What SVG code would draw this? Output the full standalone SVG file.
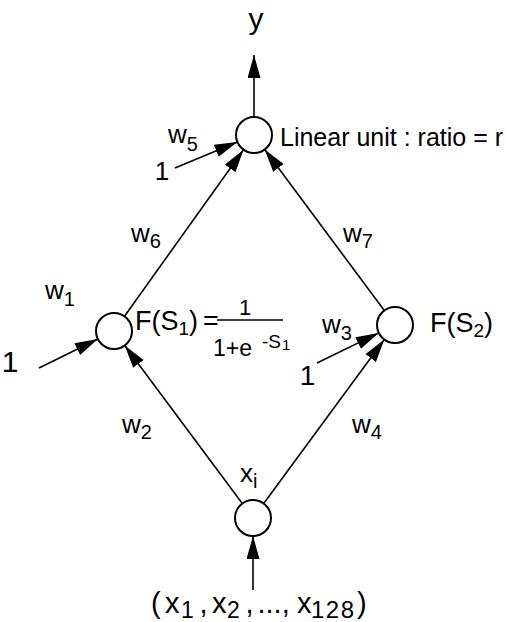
<svg xmlns="http://www.w3.org/2000/svg" width="506" height="622" viewBox="0 0 506 622">
<defs>
<marker id="arr" markerUnits="userSpaceOnUse" markerWidth="24" markerHeight="14" refX="23" refY="6.5" orient="auto">
<path d="M0,0 L23,6.5 L0,13 Z" fill="#000"/>
</marker>
<style>
text{font-family:"Liberation Sans",Arial,Helvetica,sans-serif;fill:#000}
.n{fill:#fff;stroke:#000;stroke-width:2}
.c{stroke:#000;stroke-width:1.6;fill:none}
.a{marker-end:url(#arr)}
.m{font-size:26px}
.s{font-size:20px}
</style>
</defs>
<rect width="506" height="622" fill="#fff"/>
<g id="connectors">
<line class="c a" x1="254" y1="117" x2="254" y2="55"/>
<line class="c a" x1="124.5" y1="316.3" x2="243.5" y2="149.7"/>
<line class="c a" x1="384.3" y1="310.5" x2="264.7" y2="149.5"/>
<line class="c a" x1="242.3" y1="503.6" x2="124.7" y2="345.4"/>
<line class="c a" x1="263.7" y1="503.5" x2="384.3" y2="339.5"/>
<line class="c a" x1="253" y1="590" x2="253" y2="536"/>
<line class="c a" x1="175" y1="168" x2="237.4" y2="141.9"/>
<line class="c a" x1="39" y1="368" x2="97.9" y2="339"/>
<line class="c a" x1="317" y1="363" x2="378.8" y2="332.9"/>
</g>
<g id="weights">
<text x="168" y="143" class="m">w<tspan class="s" dy="8">5</tspan></text>
<text x="131" y="242" class="m">w<tspan class="s" dy="6">6</tspan></text>
<text x="343" y="242" class="m">w<tspan class="s" dy="6">7</tspan></text>
<text x="45" y="299" class="m">w<tspan class="s" dy="7">1</tspan></text>
<text x="322" y="333" class="m">w<tspan class="s" dy="7">3</tspan></text>
<text x="122" y="433" class="m">w<tspan class="s" dy="6">2</tspan></text>
<text x="352" y="433" class="m">w<tspan class="s" dy="6">4</tspan></text>
<text x="162" y="180" font-size="26" text-anchor="middle">1</text>
<text x="10" y="372" font-size="30" text-anchor="middle">1</text>
<text x="307.5" y="385" font-size="28" text-anchor="middle">1</text>
</g>
<g id="node-output">
<circle class="n" cx="254" cy="135" r="18"/>
<text x="256" y="29" font-size="30" text-anchor="middle">y</text>
<text x="280" y="146" font-size="25">Linear unit : ratio = r</text>
</g>
<g id="node-hidden1">
<circle class="n" cx="114" cy="331" r="18"/>
<text x="135" y="330" font-size="27">F(S<tspan font-size="19" dy="5">1</tspan><tspan dy="-5">)</tspan><tspan x="203">=</tspan></text>
<line x1="217" y1="320" x2="283" y2="320" stroke="#000" stroke-width="1.6"/>
<text x="245" y="315" font-size="22" text-anchor="middle">1</text>
<text x="213" y="356" font-size="23">1+e</text>
<text x="262" y="348" font-size="19">-S<tspan font-size="15" dy="2" dx="1">1</tspan></text>
</g>
<g id="node-hidden2">
<circle class="n" cx="395" cy="325" r="18"/>
<text x="430" y="332" font-size="27">F(S<tspan font-size="19" dy="5">2</tspan><tspan dy="-5">)</tspan></text>
</g>
<g id="node-input">
<circle class="n" cx="253" cy="518" r="18"/>
<text x="240" y="482" font-size="26">x<tspan font-size="20" dy="6">i</tspan></text>
<text y="613" font-size="29"><tspan x="151">(</tspan><tspan x="165">x</tspan><tspan x="181" dy="5" font-size="23">1</tspan><tspan x="199.5" dy="-5">,</tspan><tspan x="212">x</tspan><tspan x="227" dy="5" font-size="23">2</tspan><tspan x="245.5" dy="-5">,</tspan><tspan x="257.5">...,</tspan><tspan x="297">x</tspan><tspan x="311" dy="5" font-size="24" letter-spacing="1.5">128</tspan><tspan x="357" dy="-5">)</tspan></text>
</g>
</svg>
